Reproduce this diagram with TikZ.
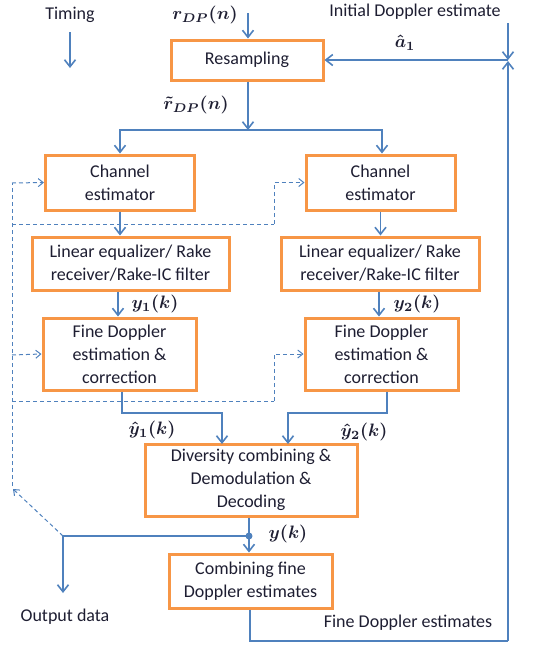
\documentclass[tikz,border=0pt]{standalone}
\usepackage{fontspec}
\setmainfont{Carlito}
\usetikzlibrary{arrows.meta,calc}
\definecolor{lblue}{HTML}{4F81BD}
\definecolor{lorange}{HTML}{F79646}
\definecolor{ltext}{HTML}{1E1E32}
\newcommand{\bigmath}[1]{\scalebox{1.8}{\boldmath$#1$}}
\tikzset{
  blk/.style={draw=lorange,line width=3pt,fill=white,align=center,text=ltext,inner sep=0pt,
    font=\fontsize{18}{23}\selectfont},
  conn/.style={draw=lblue,line width=1.8pt,-{Straight Barb[length=7pt,width=11pt,line width=1.6pt]}},
  line/.style={draw=lblue,line width=1.8pt},
  dconn/.style={draw=lblue,line width=1pt,dash pattern=on 4pt off 3pt,-{Straight Barb[length=5pt,width=8pt,line width=1pt]}},
  dline/.style={draw=lblue,line width=1pt,dash pattern=on 4pt off 3pt},
  lbl/.style={text=ltext,font=\fontsize{18}{22}\selectfont,inner sep=0pt},
  mlbl/.style={text=ltext,font=\normalsize,inner sep=0pt},
}
\begin{document}
\begin{tikzpicture}[x=1pt,y=-1pt]
\useasboundingbox (0,0) rectangle (538,646);
% blocks
\node[blk,minimum width=152pt,minimum height=40pt] (res) at (247,60) {Resampling};
\node[blk,minimum width=149pt,minimum height=55pt] (ce1) at (120,182.5) {Channel\\estimator};
\node[blk,minimum width=149pt,minimum height=55pt] (ce2) at (380.5,182.5) {Channel\\estimator};
\node[blk,minimum width=197pt,minimum height=53pt] (le1) at (130.5,263.5) {Linear equalizer/ Rake\\receiver/Rake-IC filter};
\node[blk,minimum width=198pt,minimum height=53pt] (le2) at (380,263.5) {Linear equalizer/ Rake\\receiver/Rake-IC filter};
\node[blk,minimum width=153pt,minimum height=72pt] (fd1) at (119.5,354) {Fine Doppler\\estimation \&\\correction};
\node[blk,minimum width=153pt,minimum height=72pt] (fd2) at (381.5,354) {Fine Doppler\\estimation \&\\correction};
\node[blk,minimum width=212pt,minimum height=72pt] (div) at (251,480) {Diversity combining \&\\Demodulation \&\\Decoding};
\node[blk,minimum width=163pt,minimum height=54pt] (comb) at (250.5,581) {Combining fine\\Doppler estimates};
% text labels
\node[lbl] (timing) at (70,15) {Timing};
\node[mlbl] (rdp) at (205,15) {\bigmath{r_{DP}(n)}};
\node[lbl] (ide) at (415,12) {Initial Doppler estimate};
\node[mlbl] (a1) at (405,43) {\bigmath{\hat{a}_1}};
\node[mlbl] (rtil) at (196,105) {\bigmath{\tilde{r}_{DP}(n)}};
\node[mlbl] (y1) at (155,304) {\bigmath{y_1(k)}};
\node[mlbl] (y2) at (417,304) {\bigmath{y_2(k)}};
\node[mlbl] (yh1) at (152,430) {\bigmath{\hat{y}_1(k)}};
\node[mlbl] (yh2) at (364,432) {\bigmath{\hat{y}_2(k)}};
\node[mlbl] (yk) at (288,534) {\bigmath{y(k)}};
\node[lbl] (out) at (65,617) {Output data};
\node[lbl] (fde) at (408,623) {Fine Doppler estimates};
% coordinates
\coordinate (tA) at (70,32);
\coordinate (tB) at (70,68);
\coordinate (rin) at (248,13);
\coordinate (idtop) at (508,23);
\coordinate (junc) at (508,60);
\coordinate (split) at (248,130);
\coordinate (din1) at (222,444);
\coordinate (din2) at (288,444);
\coordinate (dot) at (249,536);
\coordinate (obr) at (63,536);
\coordinate (oend) at (63,593);
\coordinate (fbl) at (250,641);
\coordinate (fbr) at (508,641);
\coordinate (dtip) at (13,489);
\coordinate (dbot) at (12,486);
\coordinate (dtop) at (12,183);
\coordinate (dm1) at (12,224);
\coordinate (dm1r) at (274,224);
\coordinate (dm2) at (12,355);
\coordinate (dm3) at (12,401);
\coordinate (dm3r) at (274,401);
% solid connectors
\draw[conn] (tA) -- (tB);
\draw[conn] (rin) -- (res.north -| rin);
\draw[conn] (idtop) -- (junc);
\draw[conn] (fbr) -- ($(junc)+(0,1)$);
\draw[conn] (junc) -- (res.east);
\draw[conn] (res.south -| split) -- (split);
\draw[conn] (split) -| (ce1.north);
\draw[conn] (split) -| ($(ce2.north)+(1.5,0)$);
\draw[conn] (ce1.south) -- (ce1.south |- le1.north);
\draw[conn] (ce2.south) -- (ce2.south |- le2.north);
\draw[conn] ($(fd1.north |- le1.south)+(-1.5,0)$) -- ($(fd1.north)+(-1.5,0)$);
\draw[conn] ($(fd2.north |- le2.south)+(-2.5,0)$) -- ($(fd2.north)+(-2.5,0)$);
\draw[conn] ($(fd1.south)+(2.5,0)$) |- ($(din1)+(0,-31)$) -- (din1);
\draw[conn] ($(fd2.south)+(5.5,0)$) |- ($(din2)+(0,-31)$) -- (din2);
\draw[line] (div.south -| dot) -- (dot);
\draw[conn] (dot) -- (comb.north -| dot);
\fill[lblue] (dot) circle (3.5pt);
\draw[line] (dot) -- (obr);
\draw[conn] (obr) -- (oend);
\draw[line] (comb.south -| fbl) -- (fbl) -- (fbr);
% dashed feedback
\draw[dconn] (obr) -- (dtip);
\draw[dline] (dbot) -- (dtop);
\draw[dconn] (dtop) -- (ce1.west);
\draw[dline] (dm1) -- (dm1r);
\draw[dconn] (dm1r) |- (ce2.west);
\draw[dconn] (dm2) -- (fd1.west);
\draw[dline] (dm3) -- (dm3r);
\draw[dconn] (dm3r) |- (fd2.west);
\end{tikzpicture}
\end{document}
